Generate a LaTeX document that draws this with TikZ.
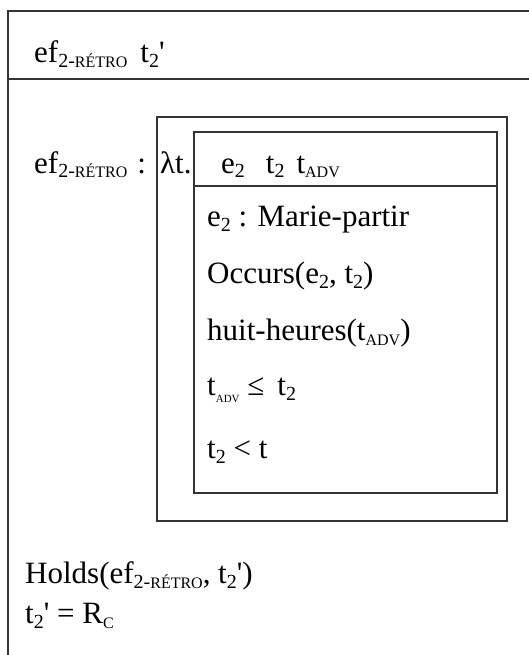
\documentclass[tikz,border=0pt]{standalone}
\usepackage{fontspec}
\setmainfont{Liberation Serif}
\usepackage{tikz}

\newcommand{\lo}[1]{\raisebox{-5pt}{\fontsize{20}{20}\selectfont #1}}
\newcommand{\sm}[1]{{\fontsize{16}{16}\selectfont #1}}
\newcommand{\smm}[1]{{\fontsize{11}{11}\selectfont #1}}
\newcommand{\efr}{ef\lo{2-\sm{RÉTRO}}}
\newcommand{\pr}{\textquotesingle}

\begin{document}
\begin{tikzpicture}[x=1pt,y=-1pt,
    line/.style={draw=black!80,line width=1.1pt},
    txt/.style={anchor=base west,inner sep=0pt,font=\fontsize{31}{34}\selectfont}]
  \useasboundingbox (0,0) rectangle (529,655);

  % Draw the outer box
  \draw[line] (8,11) rectangle (560,680);
  \draw[line] (8,79) -- (560,79);
  \node[txt] (head) at (34,63) {\efr\hspace{13pt}t\lo{2}\pr};

  % Draw the lambda box
  \draw[line] (157,117) rectangle (507,521);
  \node[txt] (name) at (34,173) {\efr\hspace{10pt}:};
  \node[txt] (lam) at (160,173) {λt.};

  % Draw the inner box
  \draw[line] (194,132) rectangle (497,493);
  \draw[line] (194,186) -- (497,186);
  \node[txt] (refs) at (221,173) {e\lo{2}\hspace{21pt}t\lo{2}\hspace{12pt}t\lo{\sm{ADV}}};

  % Conditions
  \node[txt] (c1) at (207,226) {e\lo{2} : Marie-partir};
  \node[txt] (c2) at (207,283) {Occurs(e\lo{2}, t\lo{2})};
  \node[txt] (c3) at (207,340) {huit-heures(t\lo{\sm{ADV}})};
  \node[txt] (c4) at (207,395) {t\raisebox{-7pt}{\smm{ADV}} ≤\hspace{13pt}t\lo{2}};
  \node[txt] (c5) at (207,458) {t\lo{2} < t};

  % Outer conditions
  \node[txt] (holds) at (25,583) {Holds(\efr, t\lo{2}\pr)};
  \node[txt] (rc) at (25,623) {t\lo{2}\pr{} = R\lo{\sm{C}}};
\end{tikzpicture}
\end{document}
